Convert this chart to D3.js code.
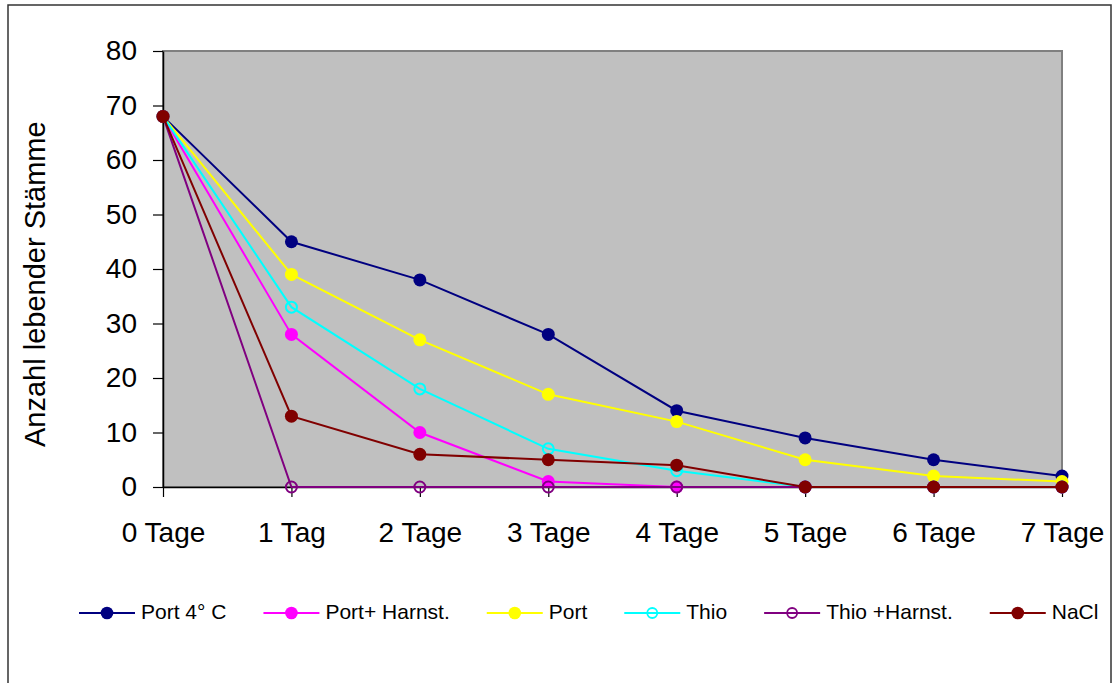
<!DOCTYPE html>
<html>
<head>
<meta charset="utf-8">
<script src="https://cdn.jsdelivr.net/npm/d3@7"></script>
<style>
  html, body { margin: 0; padding: 0; background: #fff; }
  svg { display: block; font-family: "Liberation Sans", Arial, sans-serif; }
</style>
</head>
<body>
<svg id="chart" width="1113" height="683"></svg>
<script>
// Survival of strains over seven days under different storage conditions
const categories = ["0 Tage", "1 Tag", "2 Tage", "3 Tage", "4 Tage", "5 Tage", "6 Tage", "7 Tage"];
const yTicks = [0, 10, 20, 30, 40, 50, 60, 70, 80];

const seriesNames = ["Port 4° C", "Port+ Harnst.", "Port", "Thio", "Thio +Harnst.", "NaCl"];
const port4C     = [68, 45, 38, 28, 14, 9, 5, 2];
const portHarnst = [68, 28, 10, 1, 0, 0, 0, 0];
const port       = [68, 39, 27, 17, 12, 5, 2, 1];
const thio       = [68, 33, 18, 7, 3, 0, 0, 0];
const thioHarnst = [68, 0, 0, 0, 0, 0, 0, 0];
const nacl       = [68, 13, 6, 5, 4, 0, 0, 0];

const seriesColors = ["#000080", "#FF00FF", "#FFFF00", "#00FFFF", "#800080", "#800000"];
const seriesHollow = [false, false, false, true, true, false];
const seriesValues = [port4C, portHarnst, port, thio, thioHarnst, nacl];

const series = seriesNames.map((name, i) => ({
  name,
  color: seriesColors[i],
  hollow: seriesHollow[i],
  values: seriesValues[i].map((v, j) => ({ cat: categories[j], v }))
}));

const svg = d3.select("#chart");

// Outer chart frame
svg.append("rect")
  .attr("x", 8).attr("y", 5)
  .attr("width", 1103).attr("height", 700)
  .attr("fill", "#fff")
  .attr("stroke", "#333").attr("stroke-width", 1.5);

const plot = { left: 163, right: 1062, top: 51, bottom: 487 };

const x = d3.scalePoint().domain(categories).range([plot.left, plot.right]);
const y = d3.scaleLinear().domain([0, 80]).range([plot.bottom, plot.top]);

// Plot area background
svg.append("rect")
  .attr("x", plot.left).attr("y", plot.top)
  .attr("width", plot.right - plot.left).attr("height", plot.bottom - plot.top)
  .attr("fill", "#C0C0C0")
  .attr("stroke", "#808080").attr("stroke-width", 2);

// Y axis
const yAxis = svg.append("g")
  .attr("transform", `translate(${plot.left},0)`)
  .call(d3.axisLeft(y).tickValues(yTicks).tickSize(10).tickSizeOuter(0).tickPadding(16));
yAxis.select(".domain").attr("stroke", "#000").attr("stroke-width", 1.5);
yAxis.selectAll(".tick line").attr("stroke", "#000").attr("stroke-width", 1.2);
yAxis.selectAll(".tick text")
  .attr("font-size", 28).attr("fill", "#000")
  .attr("font-family", "Liberation Sans, Arial, sans-serif");

// X axis
const xAxis = svg.append("g")
  .attr("transform", `translate(0,${plot.bottom})`)
  .call(d3.axisBottom(x).tickSize(10).tickSizeOuter(0).tickPadding(25));
xAxis.select(".domain").attr("stroke", "#000").attr("stroke-width", 1.5);
xAxis.selectAll(".tick line").attr("stroke", "#000").attr("stroke-width", 1.2);
xAxis.selectAll(".tick text")
  .attr("font-size", 28).attr("fill", "#000")
  .attr("font-family", "Liberation Sans, Arial, sans-serif");

// Y axis title, clipped at the top like the chart area does
svg.append("defs").append("clipPath").attr("id", "titleClip")
  .append("rect").attr("x", 0).attr("y", 116).attr("width", 80).attr("height", 500);
svg.append("g")
  .attr("clip-path", "url(#titleClip)")
  .append("text")
  .attr("transform", "translate(45,447) rotate(-90)")
  .attr("font-size", 29)
  .attr("fill", "#000")
  .text("Anzahl lebender Stämme");

// Series lines and markers
const line = d3.line().x(d => x(d.cat)).y(d => y(d.v));

series.forEach(s => {
  const g = svg.append("g");
  g.append("path")
    .datum(s.values)
    .attr("d", line)
    .attr("fill", "none")
    .attr("stroke", s.color)
    .attr("stroke-width", 2);
  g.selectAll("circle")
    .data(s.values)
    .join("circle")
    .attr("cx", d => x(d.cat))
    .attr("cy", d => y(d.v))
    .attr("r", s.hollow ? 5.5 : 6.5)
    .attr("fill", s.hollow ? "none" : s.color)
    .attr("stroke", s.hollow ? s.color : "none")
    .attr("stroke-width", 2);
});

// Legend
const legend = svg.append("g");
const legendY = 613;
const lineLen = 56;
let lx = 79;
series.forEach(s => {
  const item = legend.append("g");
  item.append("line")
    .attr("x1", lx).attr("x2", lx + lineLen)
    .attr("y1", legendY).attr("y2", legendY)
    .attr("stroke", s.color).attr("stroke-width", 2);
  item.append("circle")
    .attr("cx", lx + lineLen / 2).attr("cy", legendY)
    .attr("r", s.hollow ? 5 : 6.3)
    .attr("fill", s.hollow ? "none" : s.color)
    .attr("stroke", s.hollow ? s.color : "none")
    .attr("stroke-width", 1.8);
  const t = item.append("text")
    .attr("x", lx + lineLen + 6)
    .attr("y", legendY + 6)
    .attr("font-size", 21)
    .attr("fill", "#000")
    .text(s.name);
  lx += lineLen + 6 + t.node().getComputedTextLength() + 37;
});
</script>
</body>
</html>
